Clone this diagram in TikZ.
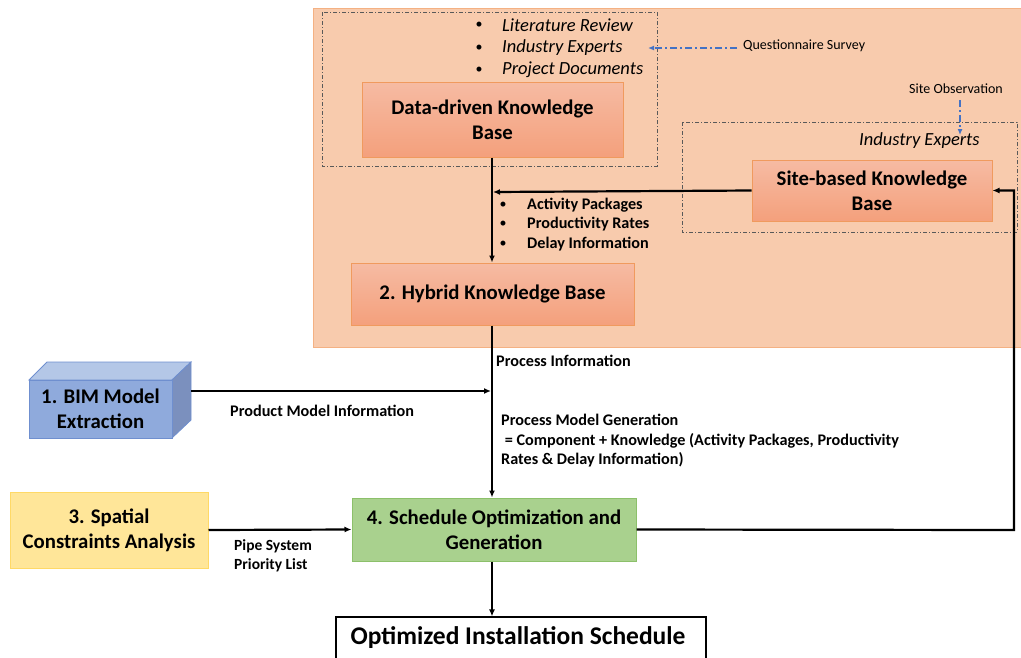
\documentclass[tikz,border=0pt]{standalone}
\usepackage{fontspec}
\setmainfont{Carlito}
\usetikzlibrary{arrows.meta,calc}
\definecolor{bgor}{HTML}{F8CBAD}
\definecolor{bgorline}{HTML}{F4B183}
\definecolor{ktop}{HTML}{F6BBA3}
\definecolor{kbot}{HTML}{F4A07C}
\definecolor{kline}{HTML}{F09A5E}
\definecolor{dashgray}{HTML}{595959}
\definecolor{qblue}{HTML}{4472C4}
\definecolor{bimfront}{HTML}{8FAADC}
\definecolor{bimtop}{HTML}{B4C7E7}
\definecolor{bimside}{HTML}{7B90BE}
\definecolor{bimline}{HTML}{6F8FCF}
\definecolor{yel}{HTML}{FFE699}
\definecolor{yelline}{HTML}{FFD966}
\definecolor{grn}{HTML}{A9D18E}
\definecolor{grnline}{HTML}{8CC06A}
\tikzset{
  boxfont/.style={font=\fontsize{20.8}{25}\selectfont\bfseries},
  kbox/.style={draw=kline, line width=1pt, top color=ktop, bottom color=kbot, align=center,
    boxfont, inner sep=0pt},
  dashbox/.style={draw=dashgray, line width=0.8pt, dash pattern=on 4pt off 2pt on 1pt off 2pt},
  arr/.style={line width=2.2pt, -{Latex[length=7pt,width=6pt]}},
  blarr/.style={draw=qblue, line width=1.3pt, dash pattern=on 7pt off 3pt on 2pt off 3pt, -{Latex[length=6pt,width=5pt]}},
  itl/.style={anchor=west, font=\fontsize{18.5}{22}\selectfont\itshape, inner sep=0pt},
  lbl/.style={anchor=west, font=\fontsize{16.2}{19}\selectfont\bfseries, inner sep=0pt},
  sml/.style={anchor=west, font=\fontsize{14}{17}\selectfont, inner sep=0pt},
  bul/.style={inner sep=0pt, font=\fontsize{14}{16}\selectfont}
}
\begin{document}
\begin{tikzpicture}[x=1pt,y=-1pt]
\useasboundingbox (0,0) rectangle (1021,657);
% orange background panel
\fill[bgor] (313,8) rectangle (1025,347);
\draw[bgorline, line width=1pt] (1025,8) -- (313,8) -- (313,347) -- (1025,347);
% dash-dot group boxes
\draw[dashbox] (322,12) rectangle (657,166);
\draw[dashbox] (682,122) rectangle (1017,232);
% bullet list of sources
\node[bul] (b1) at (479,25) {\textbullet};
\node[bul] (b2) at (479,48) {\textbullet};
\node[bul] (b3) at (479,70) {\textbullet};
\node[itl] (t1) at (502,25) {Literature Review};
\node[itl] (t2) at (502,48) {Industry Experts};
\node[itl] (t3) at (502,70) {Project Documents};
% questionnaire
\node[sml] (qs) at (743,46) {Questionnaire Survey};
\coordinate (qsa) at (737,48);
\coordinate (qsb) at (648,48);
\draw[blarr] (qsa) -- (qsb);
% site observation
\node[sml, anchor=center] (so) at (956,89) {Site Observation};
\node[itl] (ie) at (859,141) {Industry Experts};
\coordinate (soa) at (960,100);
\coordinate (sob) at (960,135);
\draw[blarr] (soa) -- (sob);
% knowledge boxes
\node[kbox, minimum width=261pt, minimum height=75pt] (dd) at (492.5,119.5) {Data-driven Knowledge\\Base};
\node[kbox, minimum width=240pt, minimum height=61pt] (site) at (872,190.5) {Site-based Knowledge\\Base};
\node[kbox, minimum width=283pt, minimum height=62pt] (hyb) at (492.5,294) {2. Hybrid Knowledge Base};
% data-driven -> hybrid
\draw[arr] (dd.south -| 492,0) -- (hyb.north -| 492,0);
\coordinate (mid) at (493,192);
\draw[arr] (site.west) -- (mid);
% bullet list of knowledge
\node[bul] (c1) at (503,205) {\textbullet};
\node[bul] (c2) at (503,224) {\textbullet};
\node[bul] (c3) at (503,244) {\textbullet};
\node[lbl] at (527,205) {Activity Packages};
\node[lbl] at (527,224) {Productivity Rates};
\node[lbl] at (527,244) {Delay Information};
% BIM cuboid
\draw[bimline, line width=0.8pt, fill=bimtop] (29,380) -- (47,362) -- (191,362) -- (172,380) -- cycle;
\draw[bimline, line width=0.8pt, fill=bimside] (172,380) -- (191,362) -- (191,420) -- (172,438) -- cycle;
\draw[bimline, line width=0.8pt, fill=bimfront] (29,380) rectangle (172,438);
\node[align=center, boxfont, minimum width=143pt, minimum height=58pt, inner sep=0pt] (bim) at (100.5,409) {1. BIM Model\\Extraction};
% spatial
\node[draw=yelline, line width=1pt, fill=yel, align=center, boxfont,
  minimum width=198pt, minimum height=76pt, inner sep=0pt] (spa) at (109,530) {3. Spatial\\Constraints Analysis};
% schedule
\node[draw=grnline, line width=1pt, fill=grn, align=center, boxfont,
  minimum width=284pt, minimum height=63pt, inner sep=0pt] (sch) at (494,529.5) {4. Schedule Optimization and\\Generation};
% output
\node[draw=black, line width=1.2pt, fill=white, minimum width=370pt, minimum height=46pt, inner sep=0pt] (out) at (521,640) {};
\node[font=\fontsize{25.5}{30}\selectfont\bfseries, inner sep=0pt] (outt) at (518,638) {Optimized Installation Schedule};
% main vertical flow
\draw[arr] (hyb.south -| 492,0) -- (sch.north -| 492,0);
\node[lbl] at (496,361) {Process Information};
\coordinate (bimr) at (191,391);
\coordinate (join) at (491,391);
\draw[arr] (bimr) -- (join);
\node[lbl] at (230,411) {Product Model Information};
\node[anchor=north west, align=left, inner sep=0pt, font=\fontsize{16.2}{19.5}\selectfont\bfseries] at (501,414)
  {Process Model Generation\\ \ = Component + Knowledge (Activity Packages, Productivity\\Rates \& Delay Information)};
% spatial -> schedule
\draw[arr] (spa.east) -- (sch.west);
\node[anchor=north west, align=left, inner sep=0pt, font=\fontsize{15.5}{19}\selectfont\bfseries] at (234,539)
  {Pipe System\\Priority List};
% schedule -> output
\draw[arr] (sch.south -| 492,0) -- (out.north -| 492,0);
% feedback loop
\coordinate (fb) at (1014,530);
\draw[arr] (sch.east) -- (fb) |- (site.east);
\end{tikzpicture}
\end{document}
